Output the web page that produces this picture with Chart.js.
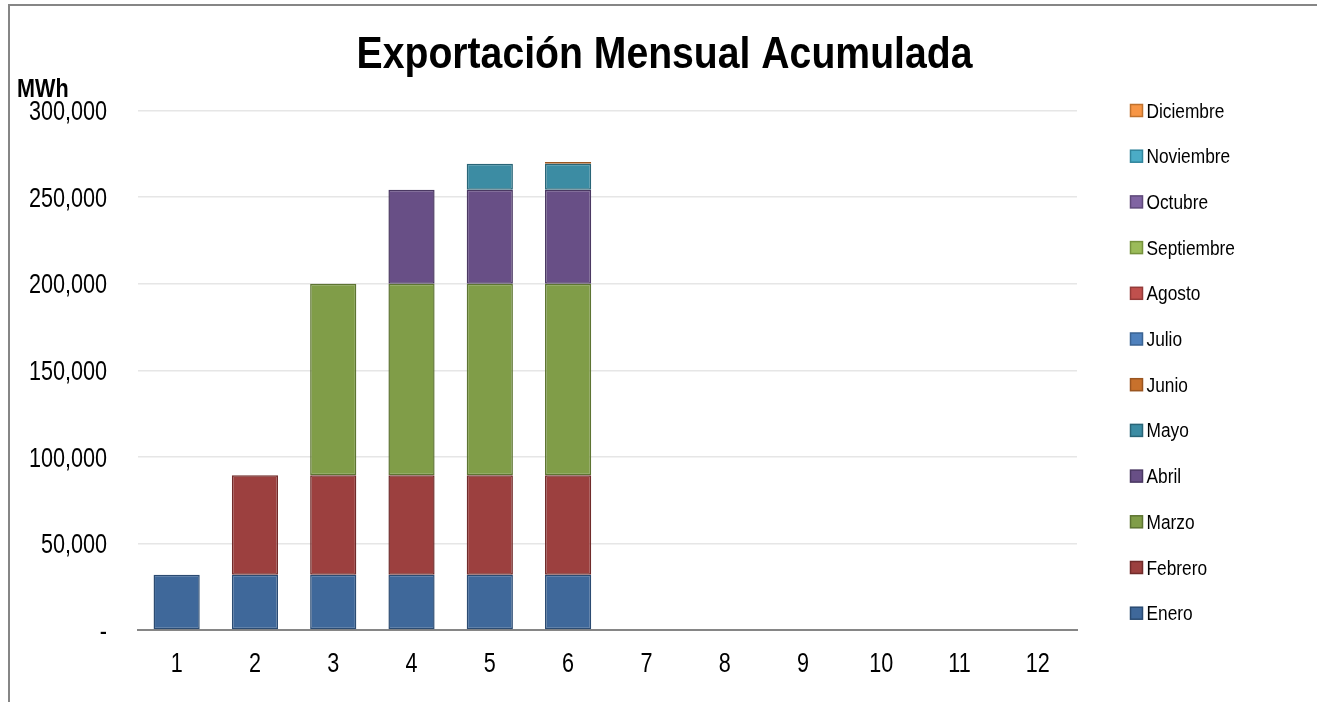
<!DOCTYPE html>
<html>
<head>
<meta charset="utf-8">
<script src="https://cdn.jsdelivr.net/npm/chart.js@4.4.1/dist/chart.umd.min.js"></script>
<style>
  html, body { margin: 0; padding: 0; background: #fff; overflow: hidden; }
  #frame { position: absolute; left: 8px; top: 4px; width: 1400px; height: 800px; border-left: 2px solid #868686; border-top: 2px solid #868686; }
  #c { position: absolute; left: 0; top: 0; }
</style>
</head>
<body>
<div id="frame"></div>
<canvas id="c" width="1317" height="702"></canvas>
<script>
const FONT = "'Liberation Sans', Arial, sans-serif";

const chartTitle = 'Exportación Mensual Acumulada';
const unitLabel = 'MWh';
const categories = ['1','2','3','4','5','6','7','8','9','10','11','12'];
const seriesNames = ['Enero','Febrero','Marzo','Abril','Mayo','Junio','Julio','Agosto','Septiembre','Octubre','Noviembre','Diciembre'];

const enero      = [31900, 31900, 31900, 31900, 31900, 31900, null, null, null, null, null, null];
const febrero    = [null, 57500, 57500, 57500, 57500, 57500, null, null, null, null, null, null];
const marzo      = [null, null, 110600, 110600, 110600, 110600, null, null, null, null, null, null];
const abril      = [null, null, null, 54300, 54300, 54300, null, null, null, null, null, null];
const mayo       = [null, null, null, null, 15000, 15000, null, null, null, null, null, null];
const junio      = [null, null, null, null, null, 1000, null, null, null, null, null, null];
const julio      = [null, null, null, null, null, null, null, null, null, null, null, null];
const agosto     = [null, null, null, null, null, null, null, null, null, null, null, null];
const septiembre = [null, null, null, null, null, null, null, null, null, null, null, null];
const octubre    = [null, null, null, null, null, null, null, null, null, null, null, null];
const noviembre  = [null, null, null, null, null, null, null, null, null, null, null, null];
const diciembre  = [null, null, null, null, null, null, null, null, null, null, null, null];

const yTicks = [0, 50000, 100000, 150000, 200000, 250000, 300000];

const seriesValues = [enero, febrero, marzo, abril, mayo, junio, julio, agosto, septiembre, octubre, noviembre, diciembre];
const fills   = ['#3F689A','#9C403F','#809D48','#684F86','#3C8CA3','#C8712C','#4F81BD','#C0504D','#9BBB59','#8064A2','#4BACC6','#F79646'];
const borders = ['#2B4B72','#702B2A','#5D7432','#4A3862','#296577','#9A5520','#3A6393','#943B39','#76923C','#5F497A','#31859C','#C0722E'];

const datasets = seriesNames.map((name, i) => ({
  label: name,
  data: seriesValues[i],
  backgroundColor: fills[i],
  borderColor: borders[i],
  borderWidth: 1.5,
  borderSkipped: false,
  barPercentage: 0.59,
  categoryPercentage: 1.0
}));

function narrowText(ctx, text, x, y, align, font, sx) {
  ctx.save();
  ctx.font = font;
  ctx.textAlign = align;
  ctx.textBaseline = 'alphabetic';
  ctx.translate(x, y);
  ctx.scale(sx, 1);
  ctx.fillText(text, 0, 0);
  ctx.restore();
}

const fmt = (v) => v === 0 ? '-' : Number(v).toLocaleString('en-US');

const extrasPlugin = {
  id: 'extras',
  afterDraw(chart) {
    const ctx = chart.ctx;
    ctx.save();
    ctx.fillStyle = '#000';
    // Title
    narrowText(ctx, chartTitle, 664.5, 68.3, 'center', 'bold 44px ' + FONT, 0.89);
    // Unit label
    narrowText(ctx, unitLabel, 17, 97, 'left', 'bold 26.5px ' + FONT, 0.815);
    // Y tick labels (from scale)
    const ys = chart.scales.y;
    ys.ticks.forEach(t => {
      const py = ys.getPixelForValue(t.value);
      narrowText(ctx, fmt(t.value), 107, py + 9.7, 'right', '27px ' + FONT, 0.8);
    });
    // X tick labels (from scale)
    const xs = chart.scales.x;
    categories.forEach((c, i) => {
      const px = xs.getPixelForValue(i);
      narrowText(ctx, c, px, 672, 'center', '27px ' + FONT, 0.8);
    });
    // Legend (reversed order)
    const x0 = 1130.5, y0 = 110.5, step = 45.7;
    for (let k = 0; k < seriesNames.length; k++) {
      const i = seriesNames.length - 1 - k;
      const y = y0 + k * step;
      ctx.fillStyle = fills[i];
      ctx.fillRect(x0, y - 6, 12, 12);
      ctx.strokeStyle = borders[i];
      ctx.lineWidth = 1.5;
      ctx.strokeRect(x0, y - 6, 12, 12);
      ctx.fillStyle = '#000';
      narrowText(ctx, seriesNames[i], 1146.5, y + 7, 'left', '20px ' + FONT, 0.865);
    }
    ctx.restore();
  }
};

new Chart(document.getElementById('c'), {
  type: 'bar',
  data: { labels: categories, datasets },
  options: {
    responsive: false,
    animation: false,
    layout: { padding: { left: 0, right: 240, top: 110.5, bottom: 0 } },
    plugins: {
      legend: { display: false },
      tooltip: { enabled: false },
      title: { display: false }
    },
    scales: {
      x: {
        stacked: true,
        grid: { display: false, drawTicks: false },
        border: { display: true, color: '#868686', width: 2 },
        ticks: { display: false },
        afterFit(scale) { scale.height = 72; }
      },
      y: {
        stacked: true,
        min: 0,
        max: 300000,
        afterBuildTicks(scale) { scale.ticks = yTicks.map(v => ({ value: v })); },
        grid: { color: '#E6E6E6', lineWidth: 1.5, drawTicks: false },
        border: { display: false },
        ticks: { display: false },
        afterFit(scale) { scale.width = 137.5; }
      }
    }
  },
  plugins: [extrasPlugin]
});
</script>
</body>
</html>
